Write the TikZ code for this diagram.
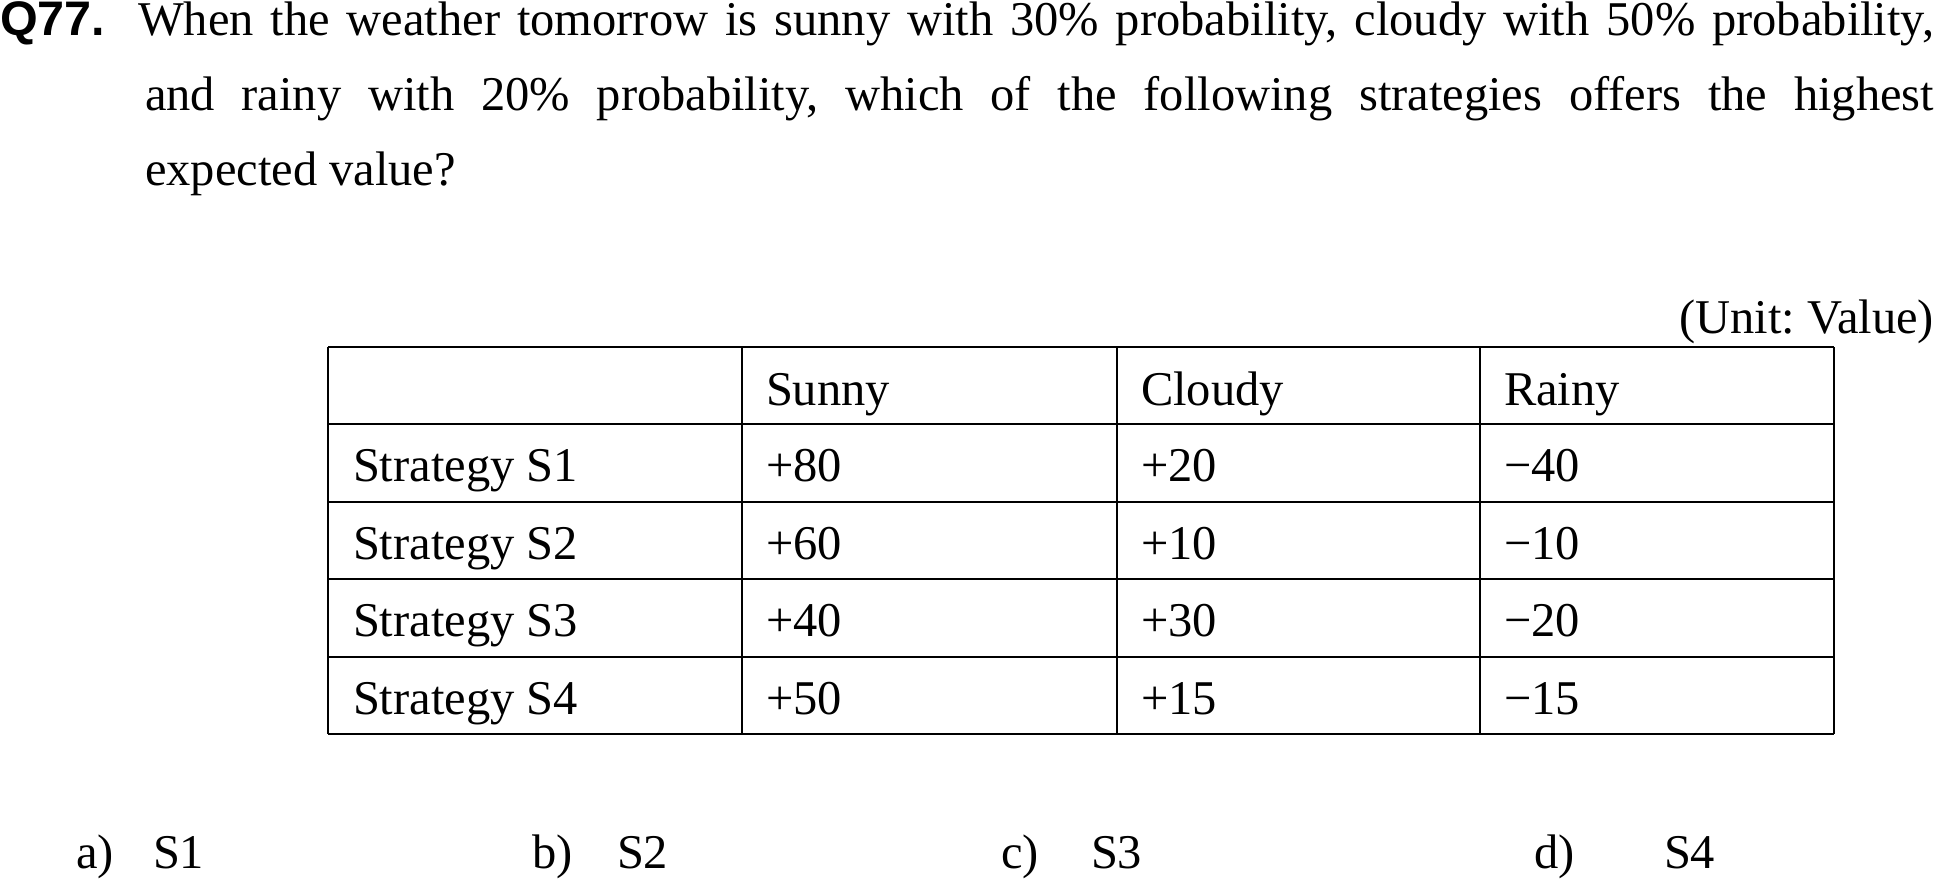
\documentclass[tikz,border=0pt]{standalone}
\usepackage{fontspec}
\setmainfont{Liberation Serif}
\newfontfamily\qfont{Liberation Sans}
\usetikzlibrary{positioning}
\frenchspacing

\begin{document}
\begin{tikzpicture}[
  x=0.25pt, y=-0.25pt,
  every node/.style = {inner sep=0, outer sep=0, font=\fontsize{12.125}{18.75}\selectfont},
  cell/.style = {anchor=base west},
  grid/.style = {line width=0.5pt}
    ]
  \useasboundingbox (0,0) rectangle (1935,880);
  \node[anchor=base west, font=\fontsize{12.125}{18.75}\qfont\bfseries] (qnum) at (0,35) {Q77.};
  \node[anchor=base west, text width=447.25pt, align=justify] (question) at (145,35)
    {\hspace*{-1.75pt}When the weather tomorrow is sunny with 30\% probability, cloudy with 50\% probability,\linebreak
     and rainy with 20\% probability, which of the following strategies offers the highest\linebreak
     expected value?};
  \node[anchor=base east] (unit) at (1934,333) {(Unit: Value)};

  \foreach \y in {347,424.4,501.8,579.2,656.6,734}
    \draw[grid] (328,\y) -- (1834,\y);
  \foreach \x in {328,742,1117,1480,1834}
    \draw[grid] (\x,347) -- (\x,734);

  \node[cell] (sunny) at (766,405) {Sunny};
  \node[cell] (cloudy) at (1141,405) {Cloudy};
  \node[cell] (rainy) at (1504,405) {Rainy};
  \foreach \n/\a/\b/\c [count=\i] in {S1/+80/+20/−40, S2/+60/+10/−10, S3/+40/+30/−20, S4/+50/+15/−15} {
    \node[cell] (row\i) at (353,{347+77.4*\i+57.5}) {Strategy \n};
    \node[cell] (sun\i) at (766,{347+77.4*\i+57.5}) {\a};
    \node[cell] (cld\i) at (1141,{347+77.4*\i+57.5}) {\b};
    \node[cell] (rny\i) at (1504,{347+77.4*\i+57.5}) {\c};
  }

  \foreach \l/\s/\xl/\xs in {a/S1/76/153, b/S2/532/617, c/S3/1001/1091, d/S4/1534/1664} {
    \node[cell] (opt\l) at (\xl,868) {\l)};
    \node[cell] (ans\l) at (\xs,868) {\s};
  }
\end{tikzpicture}
\end{document}
